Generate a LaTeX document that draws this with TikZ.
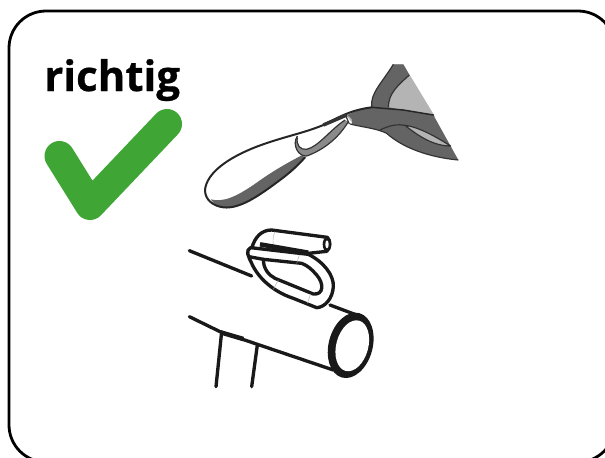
\documentclass[tikz,border=0pt]{standalone}
\usepackage{fontspec}
\setmainfont[BoldFeatures={FakeBold=0.6}]{Open Sans}
\definecolor{slingdark}{HTML}{646464}
\definecolor{slinglight}{HTML}{B4B4B4}
\definecolor{slingmid}{HTML}{8A8A8A}
\definecolor{okgreen}{HTML}{3FA535}
\tikzset{
  frameline/.style={draw=black,line width=2.1pt},
  ink/.style={draw=black!85,line width=1.5pt,line join=round,line cap=round},
  thinink/.style={draw=black!80,line width=0.9pt,line join=round},
  seam/.style={draw=black!30,line width=0.35pt},
  pipeink/.style={draw=black!90,line width=2.5pt,line cap=round,line join=round}
}
\begin{document}
\begin{tikzpicture}[x=0.75pt,y=-0.75pt]
\useasboundingbox (0,0) rectangle (605,457);
\begin{scope}
\clip (0,0) rectangle (605,457);
\draw[frameline,rounded corners=27.75pt] (9,11) rectangle (615,462);
\end{scope}
\node[anchor=base west,inner sep=0pt,font=\fontsize{31.5}{36}\selectfont\bfseries] (title) at (44,91) {richtig};
\draw[okgreen,line width=22.5pt,line cap=round,line join=round] (59.5,156) -- (90,205) -- (167,124);
% sling
\begin{scope}[shift={(190,50)},x=0.25pt,y=-0.25pt]
 \fill[slinglight] (610,43) -- (640,43) -- (735,200) -- (540,180) -- cycle;
 \fill[slinglight] (465,192) -- (490,222) -- (500,190) -- cycle;
 \fill[slingdark] (610,43) -- (640,43) -- (658,75) .. controls (625,105) and (595,130) .. (595,172)
   -- (730,195) -- (805,330) .. controls (720,322) and (640,295) .. (590,250)
   .. controls (560,235) and (520,232) .. (485,222) .. controls (490,212) and (485,202) .. (472,196)
   .. controls (490,185) and (520,176) .. (545,172)
   .. controls (540,130) and (575,100) .. (610,43) -- cycle;
 \fill[slinglight] (645,226) .. controls (690,232) and (740,262) .. (782,288) .. controls (730,288) and (685,258) .. (645,226) -- cycle;
 % lower band of the loop
 \fill[slingdark] (62,448) .. controls (100,458) and (140,440) .. (200,398)
   .. controls (250,362) and (290,340) .. (335,316) -- (345,322)
   .. controls (325,345) and (300,368) .. (270,390) .. controls (210,435) and (150,478) .. (100,472)
   .. controls (85,470) and (72,462) .. (62,448) -- cycle;
 % inner loop
 \fill[slingmid] (322,262) .. controls (318,285) and (330,300) .. (350,298) .. controls (385,290) and (420,240) .. (465,210)
   -- (475,215) .. controls (445,265) and (400,300) .. (350,318) .. controls (325,320) and (305,285) .. (322,262) -- cycle;
 \draw[thinink] (322,258) .. controls (305,285) and (325,320) .. (350,318)
   .. controls (400,300) and (445,265) .. (475,215);
 \draw[thinink] (322,262) .. controls (318,285) and (330,300) .. (350,298) .. controls (385,290) and (420,240) .. (465,210);
 % outline of the loop
 \draw[ink] (545,172) .. controls (480,180) and (440,205) .. (400,225) .. controls (340,250) and (280,260) .. (200,290)
   .. controls (110,325) and (50,370) .. (45,420) .. controls (45,450) and (70,468) .. (100,472)
   .. controls (150,478) and (210,435) .. (270,390) .. controls (300,368) and (325,345) .. (345,322);
 \draw[line width=2.6pt,black!80] (400,225) -- (470,195);
 \draw[thinink] (465,192) -- (478,222);
 % edges of the head
 \draw[thinink] (658,75) .. controls (625,105) and (595,130) .. (595,172);
 \draw[thinink] (545,172) .. controls (540,130) and (575,100) .. (610,43);
 \draw[ink,line width=1.1pt] (545,172) -- (640,180) -- (730,195);
 \draw[thinink] (480,222) .. controls (520,232) and (560,235) .. (590,250) .. controls (640,295) and (720,322) .. (805,330);
 \draw[thinink] (570,240) .. controls (600,225) and (625,222) .. (645,226) .. controls (690,232) and (740,262) .. (782,288) .. controls (730,288) and (685,258) .. (645,226);
\end{scope}
% clip on pipe
\begin{scope}[shift={(180,220)},x=0.25pt,y=-0.25pt]
 \draw[pipeink] (28,92) -- (215,168);
 \draw[pipeink] (28,290) -- (120,335) -- (460,450);
 \draw[pipeink] (450,255) -- (530,285);
 \draw[pipeink] (125,335) -- (108,500);
 \draw[pipeink] (232,375) -- (215,500);
 \draw[line width=3.4pt,black!90] (125,338) -- (190,357);
 \begin{scope}[shift={(512,376)},rotate=-15]
  \fill[black!90] (0,0) ellipse [x radius=66,y radius=100];
  \fill[white] (5,0) ellipse [x radius=48,y radius=78];
 \end{scope}
 % back of the hook
 \filldraw[pipeink,fill=white] (215,85) .. controls (225,50) and (245,30) .. (275,30) -- (442,52)
   .. controls (452,60) and (452,85) .. (440,94) -- (385,100) -- cycle;
 \fill[black!90] (441,73) ellipse [x radius=13,y radius=22];
 \fill[white] (441,73) ellipse [x radius=5,y radius=12];
 \draw[seam] (285,35) .. controls (278,50) and (278,60) .. (280,72);
 % front of the hook
 \filldraw[pipeink,fill=white,even odd rule] (212,83) -- (385,103) .. controls (430,125) and (462,165) .. (460,200)
   .. controls (458,235) and (435,262) .. (410,263) -- (340,235) .. controls (280,215) and (235,175) .. (215,130)
   .. controls (205,110) and (195,90) .. (212,83) -- cycle
   (250,118) .. controls (250,145) and (265,165) .. (285,175) -- (400,222)
   .. controls (432,225) and (432,190) .. (410,165) .. controls (395,148) and (385,138) .. (365,130) -- cycle;
 \draw[pipeink] (207,110) -- (250,118);
 \draw[line width=3.4pt,black!90] (240,73) -- (385,98);
 \draw[seam] (358,105) -- (350,130);
 \draw[seam] (295,180) -- (280,208);
 \draw[seam] (392,222) -- (382,250);
\end{scope}
\end{tikzpicture}
\end{document}
